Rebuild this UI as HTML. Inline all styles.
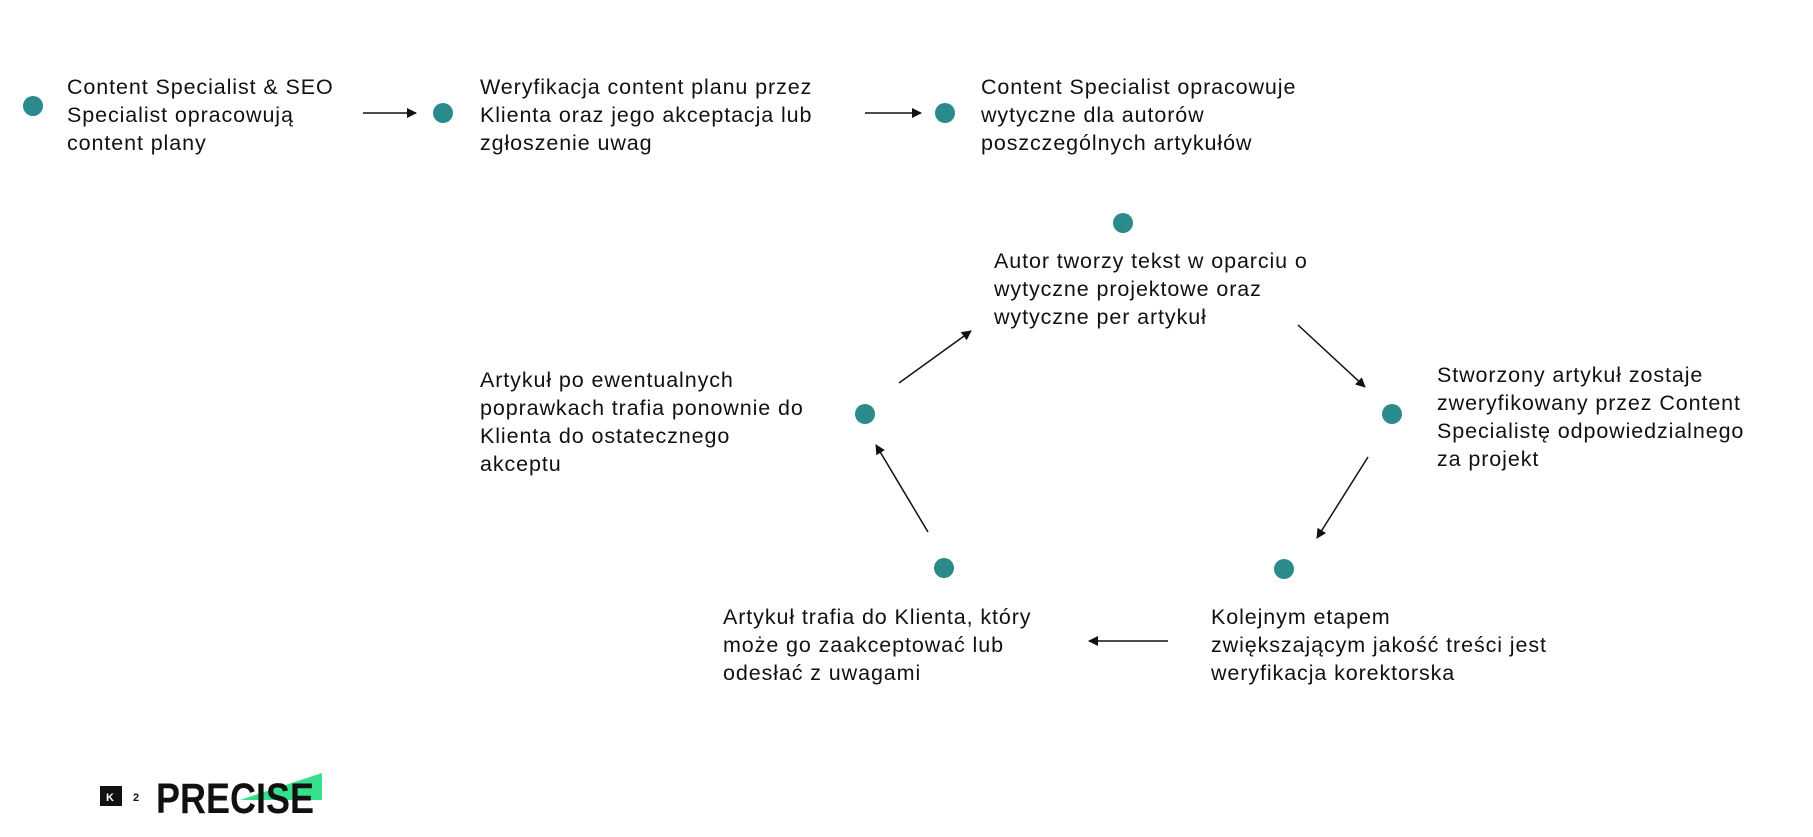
<!DOCTYPE html>
<html><head><meta charset="utf-8"><style>
body{margin:0;width:1813px;height:837px;background:#fff;position:relative;overflow:hidden;font-family:"Liberation Sans",sans-serif;color:#111}
.t{position:absolute;font-size:21.5px;line-height:28px;white-space:nowrap;letter-spacing:0.9px}
.d{position:absolute;width:20px;height:20px;border-radius:50%;background:#2b8a8c;margin:-10px 0 0 -10px}
svg{position:absolute;left:0;top:0}
</style></head><body>
<svg width="1813" height="837">
<defs><marker id="a" markerWidth="10" markerHeight="10" refX="9" refY="5" orient="auto" markerUnits="userSpaceOnUse"><path d="M0,0 L10,5 L0,10 z" fill="#111"/></marker></defs>
<g stroke="#111" stroke-width="1.5" marker-end="url(#a)">
<line x1="363" y1="113" x2="416" y2="113"/>
<line x1="865" y1="113" x2="921" y2="113"/>
<line x1="1298" y1="325" x2="1365" y2="387"/>
<line x1="1368" y1="457" x2="1317" y2="538"/>
<line x1="1168" y1="641" x2="1089" y2="641"/>
<line x1="928" y1="532" x2="876" y2="445"/>
<line x1="899" y1="383" x2="971" y2="331"/>
</g>
<rect x="100" y="786" width="22" height="20" fill="#111"/>
<text x="106" y="801" font-family="Liberation Sans" font-weight="bold" font-size="11" fill="#fff">K</text>
<text x="133" y="801" font-family="Liberation Sans" font-weight="bold" font-size="11" fill="#111">2</text>
<polygon points="240,800 322,773 322,800" fill="#34e08c"/>
<text x="156" y="813" font-family="Liberation Sans" font-weight="bold" font-size="43" fill="#111" textLength="158" lengthAdjust="spacingAndGlyphs">PRECISE</text>
</svg>
<div class="d" style="left:33px;top:106px"></div>
<div class="d" style="left:443px;top:113px"></div>
<div class="d" style="left:945px;top:113px"></div>
<div class="d" style="left:1123px;top:223px"></div>
<div class="d" style="left:1392px;top:414px"></div>
<div class="d" style="left:1284px;top:569px"></div>
<div class="d" style="left:944px;top:568px"></div>
<div class="d" style="left:865px;top:414px"></div>
<div class="t" style="left:67px;top:73px">Content Specialist &amp; SEO<br>Specialist opracowują<br>content plany</div>
<div class="t" style="left:480px;top:73px">Weryfikacja content planu przez<br>Klienta oraz jego akceptacja lub<br>zgłoszenie uwag</div>
<div class="t" style="left:981px;top:73px">Content Specialist opracowuje<br>wytyczne dla autorów<br>poszczególnych artykułów</div>
<div class="t" style="left:994px;top:247px">Autor tworzy tekst w oparciu o<br>wytyczne projektowe oraz<br>wytyczne per artykuł</div>
<div class="t" style="left:1437px;top:361px">Stworzony artykuł zostaje<br>zweryfikowany przez Content<br>Specialistę odpowiedzialnego<br>za projekt</div>
<div class="t" style="left:1211px;top:603px">Kolejnym etapem<br>zwiększającym jakość treści jest<br>weryfikacja korektorska</div>
<div class="t" style="left:723px;top:603px">Artykuł trafia do Klienta, który<br>może go zaakceptować lub<br>odesłać z uwagami</div>
<div class="t" style="left:480px;top:366px">Artykuł po ewentualnych<br>poprawkach trafia ponownie do<br>Klienta do ostatecznego<br>akceptu</div>
</body></html>
